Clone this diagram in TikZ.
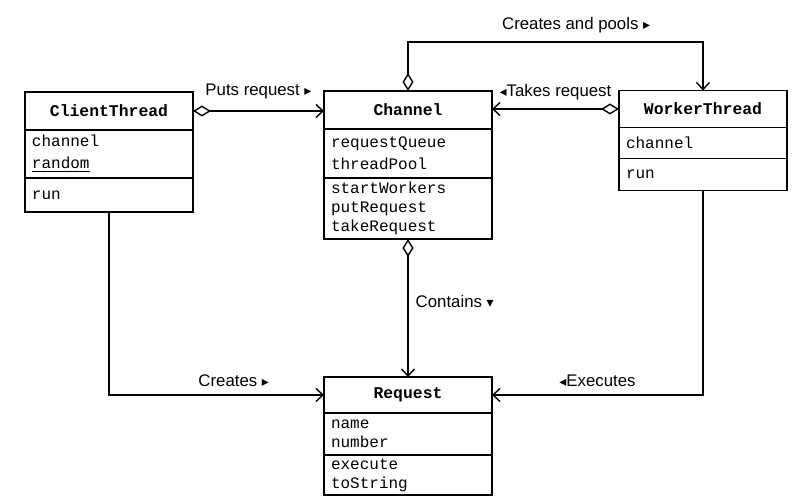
\documentclass[tikz,border=0pt]{standalone}
\usepackage{fontspec}
\setmainfont{Liberation Sans}
\setmonofont{Liberation Mono}
\newfontfamily\trifont{DejaVu Sans}
\usetikzlibrary{arrows.meta,positioning}
\newcommand{\rtri}{{\trifont\fontsize{7}{7}\selectfont ▸}}
\newcommand{\ltri}{{\trifont\fontsize{7}{7}\selectfont ◂}}
\newcommand{\dtri}{{\trifont\fontsize{7}{7}\selectfont ▾}}

\begin{document}
\begin{tikzpicture}[x=0.5pt,y=0.5pt,
  clsname/.style={draw,line width=0.8pt,outer sep=0pt,minimum width=84pt,minimum height=19pt,inner sep=0pt,font=\fontsize{8.2}{10}\selectfont\ttfamily\bfseries},
  slot/.style={draw,line width=0.8pt,outer sep=0pt,text width=77pt,inner xsep=3.5pt,inner ysep=0pt,align=left,font=\fontsize{8}{9.5}\selectfont\ttfamily},
  loose/.style={font=\fontsize{8}{11}\selectfont\ttfamily},
  agg/.style={{Diamond[open,length=9pt,width=5.5pt]}-{Straight Barb[length=3.5pt,width=6.5pt]},line width=0.7pt},
  uses/.style={-{Straight Barb[length=3.5pt,width=6.5pt]},line width=0.7pt},
  lbl/.style={font=\fontsize{8.4}{10}\selectfont,inner sep=1pt},
]
\useasboundingbox (0,0) rectangle (800,504);

% classes
\node[clsname] (ct) at (109,393) {ClientThread};
\node[slot,loose,minimum height=24pt,below=0pt of ct] (ctattr) {channel\\\underline{random}};
\node[slot,minimum height=17pt,below=0pt of ctattr] (ctops) {run};

\node[clsname] (ch) at (408,394) {Channel};
\node[slot,loose,minimum height=24.5pt,below=0pt of ch] (chattr) {requestQueue\\threadPool};
\node[slot,minimum height=30.5pt,below=0pt of chattr] (chops) {startWorkers\\putRequest\\takeRequest};

\node[clsname,minimum height=18.5pt] (wk) at (703,395) {WorkerThread};
\node[slot,minimum height=15.5pt,below=0pt of wk] (wkattr) {channel};
\node[slot,minimum height=16pt,below=0pt of wkattr] (wkops) {run};

\node[clsname,minimum height=18pt] (rq) at (408,109) {Request};
\node[slot,minimum height=21pt,below=0pt of rq] (rqattr) {name\\number};
\node[slot,minimum height=20pt,below=0pt of rqattr] (rqops) {execute\\toString};

% associations
\draw[agg] (ct.east) -- (ct.east -| ch.west) node[lbl,midway,above=4.5pt] {Puts request \rtri};
\draw[agg] (wk.west) -- (wk.west -| ch.east) node[lbl,midway,above=3pt] {\ltri Takes request};
\draw[agg] (ch.north) -- ++(0,49) -| (wk.north) node[lbl,pos=0.285,above=3pt] {Creates and pools \rtri};
\draw[agg] (chops.south) -- (rq.north) node[lbl,pos=0.45,right=2.5pt] {Contains \dtri};
\draw[uses] (ctops.south) |- (rq.west) node[lbl,pos=0.79,above=3pt] {Creates \rtri};
\draw[uses] (wkops.south) |- (rq.east) node[lbl,pos=0.75,above=3pt] {\ltri Executes};
\end{tikzpicture}
\end{document}
